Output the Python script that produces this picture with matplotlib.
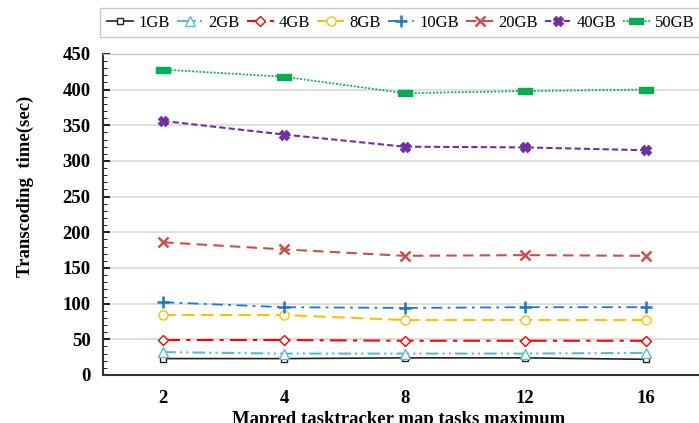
import matplotlib.pyplot as plt
from matplotlib.ticker import MultipleLocator

# map tasks maximum (categorical x)
map_tasks = ['2', '4', '8', '12', '16']

# transcoding time (sec) per input size
t_1gb = [23, 23, 24, 24, 22]
t_2gb = [32, 30, 30, 30, 31]
t_4gb = [49, 49, 48, 48, 48]
t_8gb = [84, 84, 77, 77, 77]
t_10gb = [102, 95, 94, 95, 95]
t_20gb = [186, 176, 167, 168, 167]
t_40gb = [356, 337, 320, 319, 315]
t_50gb = [428, 418, 395, 398, 400]

series_labels = ['1GB', '2GB', '4GB', '8GB', '10GB', '20GB', '40GB', '50GB']

plt.rcParams['font.family'] = ['Liberation Serif', 'DejaVu Serif']

fig = plt.figure(figsize=(6.99, 4.23), dpi=100)
ax = fig.add_axes([0.1474, 0.1135, 0.863, 0.759])

x = range(len(map_tasks))
rect = [(-1, -0.4), (1, -0.4), (1, 0.4), (-1, 0.4), (-1, -0.4)]

styles = [
    dict(color='#222222', ls='-', marker='s', mfc='white', ms=4.5, lw=1.2),
    dict(color='#5fb7d0', ls=(0, (6, 2, 1, 2, 1, 2)), marker='^', mfc='white', ms=6.5, lw=1.5),
    dict(color='#ff0000', ls=(0, (8, 3, 2, 3)), marker='D', mfc='white', ms=5.5, lw=1.5),
    dict(color='#ffc000', ls=(0, (6, 3)), marker='o', mfc='white', ms=6.5, lw=1.5),
    dict(color='#1f77c4', ls=(0, (6, 3, 1.5, 3)), marker='+', ms=8, mew=1.8, lw=1.3),
    dict(color='#c8504d', ls=(0, (5, 3)), marker='x', ms=6.5, mew=1.8, lw=1.5),
    dict(color='#7030a0', ls=(0, (3, 1.5)), marker='X', ms=6.5, lw=1.5),
    dict(color='#00b050', ls=(0, (1, 1)), marker=rect, ms=10, lw=1.3),
]
data = [t_1gb, t_2gb, t_4gb, t_8gb, t_10gb, t_20gb, t_40gb, t_50gb]

for vals, lab, st in zip(data, series_labels, styles):
    ax.plot(x, vals, label=lab, **st)

ax.set_xlim(-0.5, len(map_tasks) - 0.5)
ax.set_ylim(0, 450)
ax.set_xticks(list(x))
ax.set_xticklabels(map_tasks, fontsize=13.5, fontweight='bold')
ax.yaxis.set_major_locator(MultipleLocator(50))
ax.yaxis.set_minor_locator(MultipleLocator(10))
ax.tick_params(axis='y', labelsize=13.5, direction='in', length=5, width=1.2, pad=9)
ax.tick_params(axis='y', which='minor', direction='in', length=3)
ax.tick_params(axis='x', length=0, pad=11)
for lbl in ax.get_yticklabels():
    lbl.set_fontweight('bold')
ax.grid(axis='y', color='#d9d9d9', lw=1.2)
ax.set_axisbelow(True)
for side in ['left', 'bottom']:
    ax.spines[side].set_linewidth(1.5)
    ax.spines[side].set_color('#333333')
ax.spines['top'].set_color('#bbbbbb')
ax.spines['right'].set_visible(False)

ax.set_ylabel('Transcoding  time(sec)', fontsize=13.5, fontweight='bold')
ax.yaxis.set_label_coords(-0.115, 0.586)
ax.set_xlabel('Mapred tasktracker map tasks maximum', fontsize=13.5, fontweight='bold')
ax.xaxis.set_label_coords(0.49, -0.113, transform=ax.transAxes)
ax.xaxis.label.set_va('top')

fig.legend(loc='lower left', bbox_to_anchor=(0.143, 0.912, 0.86, 0.07), mode='expand',
           ncol=8, fontsize=12, frameon=True, fancybox=False, edgecolor='#bbbbbb',
           handlelength=1.6, handletextpad=0.3, columnspacing=0.6, borderaxespad=0)

fig.savefig('out.png', dpi=100)
